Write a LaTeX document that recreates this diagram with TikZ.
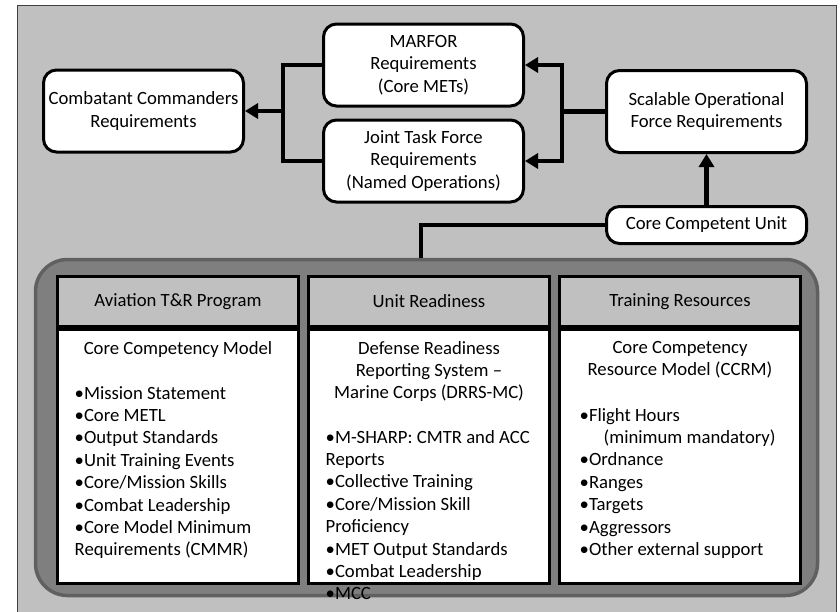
\documentclass[tikz,border=0pt]{standalone}
\usepackage{fontspec}
\setmainfont{Carlito}
\usetikzlibrary{positioning, calc, arrows.meta}
\definecolor{panelGray}{RGB}{192, 192, 192}
\definecolor{frameGray}{RGB}{127, 127, 127}
\definecolor{frameEdge}{RGB}{96, 96, 96}

\begin{document}
\begin{tikzpicture}[
        x=1pt, y=-1pt,
        font=\fontsize{18.7}{22.4}\selectfont,
        req/.style={rectangle, draw=black, line width=3pt, fill=white, rounded corners=13pt, minimum width=200pt, minimum height=82pt, inner sep=0pt, align=center},
        colhead/.style={rectangle, draw=black, line width=3pt, fill=panelGray, minimum width=241pt, minimum height=49.5pt, inner sep=0pt},
        colbody/.style={rectangle, draw=black, line width=3pt, fill=white, minimum width=241pt, minimum height=254.5pt, inner sep=0pt},
        coltitle/.style={anchor=north, inner sep=0pt, align=center},
        bullets/.style={inner sep=0pt, align=left},
        link/.style={line width=4.5pt},
        arrow/.style={link, -{Triangle[length=13pt, width=15pt]}}
    ]
        \useasboundingbox (0,0) rectangle (840,611);
        \draw[draw=black!75, fill=panelGray] (17,5) rectangle (836,620);

        % requirement boxes
        \node[req] (ccr) at (143.5,111) {Combatant Commanders\\Requirements};
        \node[req] (mfr) at (423.5,65) {MARFOR\\Requirements\\(Core METs)};
        \node[req, below=11pt of mfr] (jtf) {Joint Task Force\\Requirements\\(Named Operations)};
        \node[req] (scal) at (706.5,111.5) {Scalable Operational\\Force Requirements};
        \node[req, minimum height=37pt, below=51pt of scal] (ccu) {Core Competent Unit};

        \draw[arrow] (ccu.north) -- (scal.south);
        \draw[link] (scal.west) -- ++(-43,0) coordinate (split);
        \draw[arrow] (split) |- (mfr.east);
        \draw[arrow] (split) |- (jtf.east);
        \draw[link] (mfr.west) -- ++(-39,0) coordinate (join) |- (jtf.west);
        \draw[arrow] (join) |- (ccr.east);

        % core competency frame
        \node[draw=frameEdge, fill=frameGray, line width=3.5pt, rounded corners=32pt, minimum width=782pt, minimum height=336pt] (frame) at (426.5,427.5) {};
        \draw[link] (ccu.west) -| ($(frame.north)+(-5.5,0)$);

        \node[colhead] (h1) at (178,301.25) {Aviation T\&R Program};
        \node[colhead, right=7pt of h1] (h2) {Unit Readiness};
        \node[colhead, right=7pt of h2] (h3) {Training Resources};
        \node[colbody, below=0pt of h1] (b1) {};
        \node[colbody, below=0pt of h2] (b2) {};
        \node[colbody, below=0pt of h3] (b3) {};

        \node[coltitle, below=13.5pt of b1.north] (t1) {Core Competency Model};
        \node[bullets, below right=58.5pt and 18.5pt of b1.north west] (l1) {%
            •Mission Statement\\
            •Core METL\\
            •Output Standards\\
            •Unit Training Events\\
            •Core/Mission Skills\\
            •Combat Leadership\\
            •Core Model Minimum\\
            Requirements (CMMR)};

        \node[coltitle, below=13.5pt of b2.north] (t2) {Defense Readiness\\Reporting System --\\Marine Corps (DRRS-MC)};
        \node[bullets, below right=102.5pt and 18.5pt of b2.north west] (l2) {%
            •M-SHARP: CMTR and ACC\\
            Reports\\
            •Collective Training\\
            •Core/Mission Skill\\
            Proficiency\\
            •MET Output Standards\\
            •Combat Leadership\\
            •MCC};

        \node[coltitle, below=13.5pt of b3.north] (t3) {Core Competency\\Resource Model (CCRM)};
        \node[bullets, below right=80.5pt and 21.5pt of b3.north west] (l3) {%
            •Flight Hours\\
            \hspace*{24pt}(minimum mandatory)\\
            •Ordnance\\
            •Ranges\\
            •Targets\\
            •Aggressors\\
            •Other external support};
    \end{tikzpicture}
\end{document}
